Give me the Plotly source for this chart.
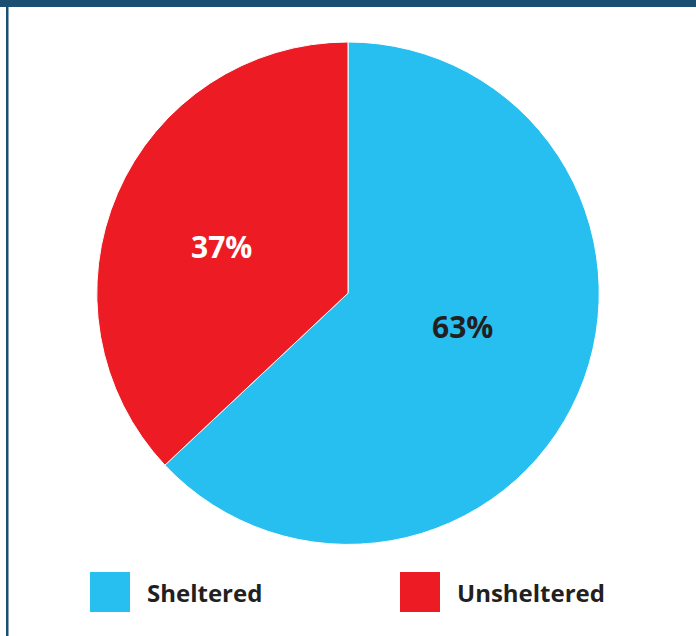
import plotly.graph_objects as go

# Share of people experiencing homelessness by shelter status
categories = ["Sheltered", "Unsheltered"]
shares = [63, 37]
colors = ["#26BFF0", "#ED1C24"]
label_colors = ["#231F20", "#FFFFFF"]
# where each percentage label sits (pixels from the top-left corner)
label_pos = [(462, 326), (221, 246)]

W, H = 696, 636
FONT = "Open Sans"

fig = go.Figure(
    go.Pie(
        labels=categories,
        values=shares,
        sort=False,
        direction="clockwise",
        rotation=0,
        marker=dict(colors=colors, line=dict(color="#FFFFFF", width=1)),
        textinfo="none",
        hoverinfo="label+percent",
        showlegend=False,
        domain=dict(x=[0.1390, 0.8610], y=[0.1440, 0.9340]),
    )
)

# Frame: dark bar along the top and a thin rule down the left edge
frame_color = "#1B4F72"
shapes = [
    dict(type="rect", xref="paper", yref="paper", x0=0, x1=1,
         y0=1 - 7 / H, y1=1, fillcolor=frame_color, line_width=0, layer="above"),
    dict(type="rect", xref="paper", yref="paper", x0=6 / W, x1=8.5 / W,
         y0=0, y1=1, fillcolor=frame_color, line_width=0, layer="above"),
]

annotations = []

# Percentage labels inside the slices
total = sum(shares)
for v, col, (px, py) in zip(shares, label_colors, label_pos):
    annotations.append(dict(xref="paper", yref="paper",
                            x=px / W, y=1 - py / H,
                            xanchor="center", yanchor="middle", showarrow=False,
                            text=f"<b>{round(100 * v / total)}%</b>",
                            font=dict(family=FONT, size=30, color=col)))

# Legend: coloured squares with bold labels
legend_x = [90, 400]
box = 40
box_top = 572
for name, col, lx in zip(categories, colors, legend_x):
    shapes.append(dict(type="rect", xref="paper", yref="paper",
                       x0=lx / W, x1=(lx + box) / W,
                       y0=1 - (box_top + box) / H, y1=1 - box_top / H,
                       fillcolor=col, line_width=0))
    annotations.append(dict(xref="paper", yref="paper",
                            x=(lx + box + 15) / W, y=1 - (box_top + box / 2) / H,
                            xanchor="left", yanchor="middle", showarrow=False,
                            text=f"<b>{name}</b>",
                            font=dict(family=FONT, size=24, color="#231F20")))

fig.update_layout(
    width=W, height=H,
    margin=dict(l=0, r=0, t=0, b=0),
    paper_bgcolor="#FFFFFF",
    plot_bgcolor="#FFFFFF",
    shapes=shapes,
    annotations=annotations,
)

fig.write_html("out.html")
